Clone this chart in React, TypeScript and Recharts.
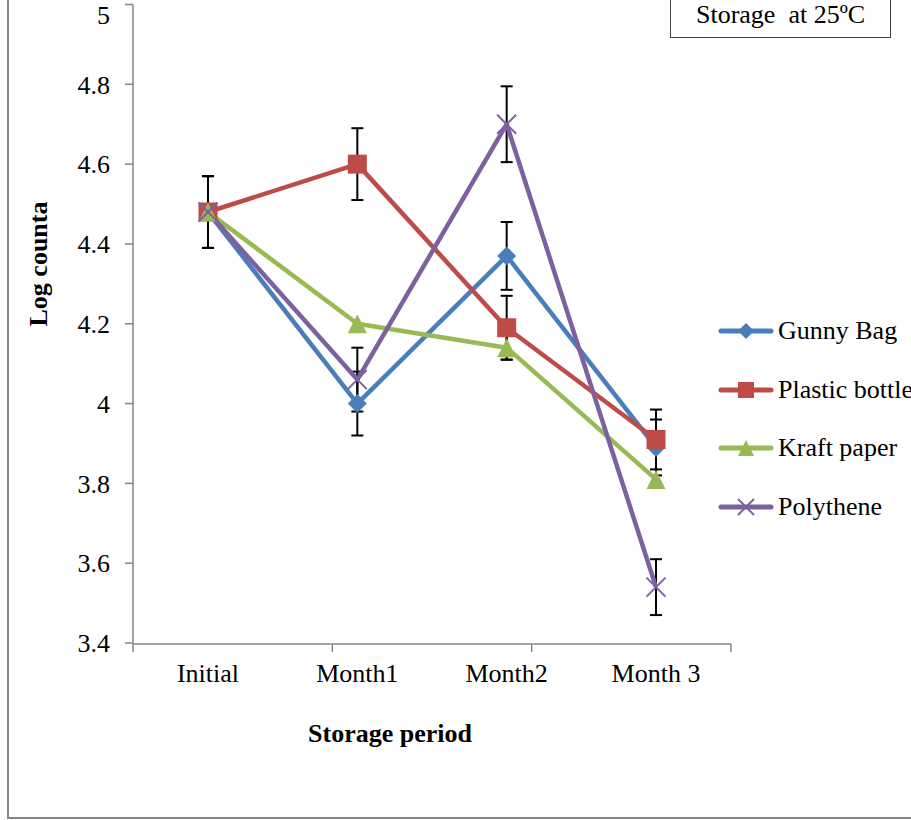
import { LineChart, Line, XAxis, YAxis, ErrorBar, Legend } from 'recharts';

const periods = ['Initial', 'Month1', 'Month2', 'Month 3'];

const gunnyBag = [4.48, 4.0, 4.37, 3.89];
const gunnyBagErr = [0.09, 0.08, 0.085, 0.07];
const plasticBottle = [4.48, 4.6, 4.19, 3.91];
const plasticBottleErr = [0.09, 0.09, 0.08, 0.075];
const kraftPaper = [4.48, 4.2, 4.14, 3.81];
const kraftPaperErr = [0.09, 0, 0.03, 0];
const polythene = [4.48, 4.06, 4.7, 3.54];
const polytheneErr = [0.09, 0.08, 0.095, 0.07];

const yTicks = [3.4, 3.6, 3.8, 4, 4.2, 4.4, 4.6, 4.8, 5];
const boundaryTicks = [0, 1, 2, 3, 4];

const FONT = "'Liberation Serif', serif";
const AXIS_GRAY = '#868686';

type Shape = 'diamond' | 'square' | 'triangle' | 'cross';

const SERIES: { key: string; name: string; color: string; shape: Shape }[] = [
  { key: 'gunny', name: 'Gunny Bag', color: '#4A7EBB', shape: 'diamond' },
  { key: 'plastic', name: 'Plastic bottle', color: '#BE4B48', shape: 'square' },
  { key: 'kraft', name: 'Kraft paper', color: '#98B954', shape: 'triangle' },
  { key: 'poly', name: 'Polythene', color: '#7D60A0', shape: 'cross' },
];

const data = periods.map((period, i) => ({
  period,
  gunny: gunnyBag[i],
  gunnyErr: gunnyBagErr[i],
  plastic: plasticBottle[i],
  plasticErr: plasticBottleErr[i],
  kraft: kraftPaper[i],
  kraftErr: kraftPaperErr[i],
  poly: polythene[i],
  polyErr: polytheneErr[i],
}));

const tickStyle = { fontSize: 26, fontFamily: FONT, fill: '#000' };

function Marker({ shape, cx, cy, color, size = 19 }: { shape: Shape; cx: number; cy: number; color: string; size?: number }) {
  const h = size / 2;
  if (shape === 'diamond') {
    return <polygon points={`${cx},${cy - h} ${cx + h},${cy} ${cx},${cy + h} ${cx - h},${cy}`} fill={color} />;
  }
  if (shape === 'square') {
    return <rect x={cx - h} y={cy - h} width={size} height={size} fill={color} />;
  }
  if (shape === 'triangle') {
    return <polygon points={`${cx},${cy - h} ${cx + h},${cy + h} ${cx - h},${cy + h}`} fill={color} />;
  }
  return (
    <g stroke={color} strokeWidth={2}>
      <line x1={cx - h} y1={cy - h} x2={cx + h} y2={cy + h} />
      <line x1={cx - h} y1={cy + h} x2={cx + h} y2={cy - h} />
    </g>
  );
}

const renderLegend = () => (
  <div style={{ fontFamily: FONT, fontSize: 26, color: '#000', whiteSpace: 'nowrap' }}>
    {SERIES.map((s) => (
      <div key={s.key} style={{ display: 'flex', alignItems: 'center', height: 58.7 }}>
        <svg width={56} height={24} style={{ display: 'block' }}>
          <line x1={3} x2={53} y1={12} y2={12} stroke={s.color} strokeWidth={5} strokeLinecap="round" />
          <Marker shape={s.shape} cx={28} cy={12} color={s.color} size={16} />
        </svg>
        <span style={{ marginLeft: 4 }}>{s.name}</span>
      </div>
    ))}
  </div>
);

export default function App() {
  return (
    <div
      style={{
        position: 'absolute',
        left: 0,
        top: 0,
        width: 911,
        height: 820,
        overflow: 'hidden',
        background: '#fff',
        fontFamily: FONT,
      }}
    >
      {/* chart frame, only left and bottom edges are in view */}
      <div
        style={{
          position: 'absolute',
          left: 7,
          top: -5,
          width: 1000,
          height: 822,
          borderLeft: `2px solid ${AXIS_GRAY}`,
          borderBottom: `2px solid ${AXIS_GRAY}`,
        }}
      />

      <div style={{ position: 'absolute', left: 0, top: 0 }}>
        <LineChart width={911} height={820} data={data} margin={{ top: 4.5, right: 180, bottom: 175, left: 0 }}>
          {/* boundary tick marks between categories, like Excel */}
          <XAxis
            xAxisId="grid"
            type="number"
            domain={[0, 4]}
            ticks={boundaryTicks}
            allowDataOverflow
            height={1}
            tick={{ fontSize: 1, fill: 'none' }}
            tickFormatter={() => ''}
            tickSize={8}
            tickLine={{ stroke: AXIS_GRAY, strokeWidth: 1.5 }}
            axisLine={{ stroke: AXIS_GRAY, strokeWidth: 1.5 }}
          />
          <XAxis
            dataKey="period"
            height={1}
            padding={{ left: 75, right: 75 }}
            axisLine={false}
            tickLine={false}
            tickSize={0}
            tickMargin={21}
            tick={tickStyle}
            interval={0}
          />
          <YAxis
            domain={[3.4, 5]}
            ticks={yTicks}
            width={133}
            allowDataOverflow
            tickSize={8}
            tickMargin={15}
            tick={tickStyle}
            tickLine={{ stroke: AXIS_GRAY, strokeWidth: 1.5 }}
            axisLine={{ stroke: AXIS_GRAY, strokeWidth: 1.5 }}
          />
          <Legend
            layout="vertical"
            align="center"
            verticalAlign="middle"
            wrapperStyle={{ left: 718, top: 301.6, width: 260 }}
            content={renderLegend}
          />
          {SERIES.map((s) => (
            <Line
              key={s.key}
              type="linear"
              dataKey={s.key}
              name={s.name}
              stroke={s.color}
              strokeWidth={4.5}
              strokeLinejoin="round"
              isAnimationActive={false}
              dot={(p: any) => (
                <Marker key={`${s.key}-${p.index}`} shape={s.shape} cx={p.cx} cy={p.cy} color={s.color} />
              )}
              activeDot={false}
            >
              <ErrorBar dataKey={`${s.key}Err`} direction="y" width={6} stroke="#000" strokeWidth={2} isAnimationActive={false} />
            </Line>
          ))}
        </LineChart>
      </div>

      <svg width={911} height={820} style={{ position: 'absolute', left: 0, top: 0, pointerEvents: 'none' }}>
        <text x={390} y={742} textAnchor="middle" fontFamily={FONT} fontSize={26} fontWeight="bold" fill="#000">
          Storage period
        </text>
        <text
          transform="translate(47,264) rotate(-90)"
          textAnchor="middle"
          fontFamily={FONT}
          fontSize={26}
          fontWeight="bold"
          fill="#000"
        >
          Log counta
        </text>
      </svg>

      <div
        style={{
          position: 'absolute',
          left: 670,
          top: -8,
          width: 219,
          height: 44,
          border: '1.5px solid #404040',
          display: 'flex',
          alignItems: 'center',
          justifyContent: 'center',
          fontFamily: FONT,
          fontSize: 26,
          whiteSpace: 'pre',
          background: '#fff',
        }}
      >
        {'Storage  at 25ºC'}
      </div>
    </div>
  );
}
